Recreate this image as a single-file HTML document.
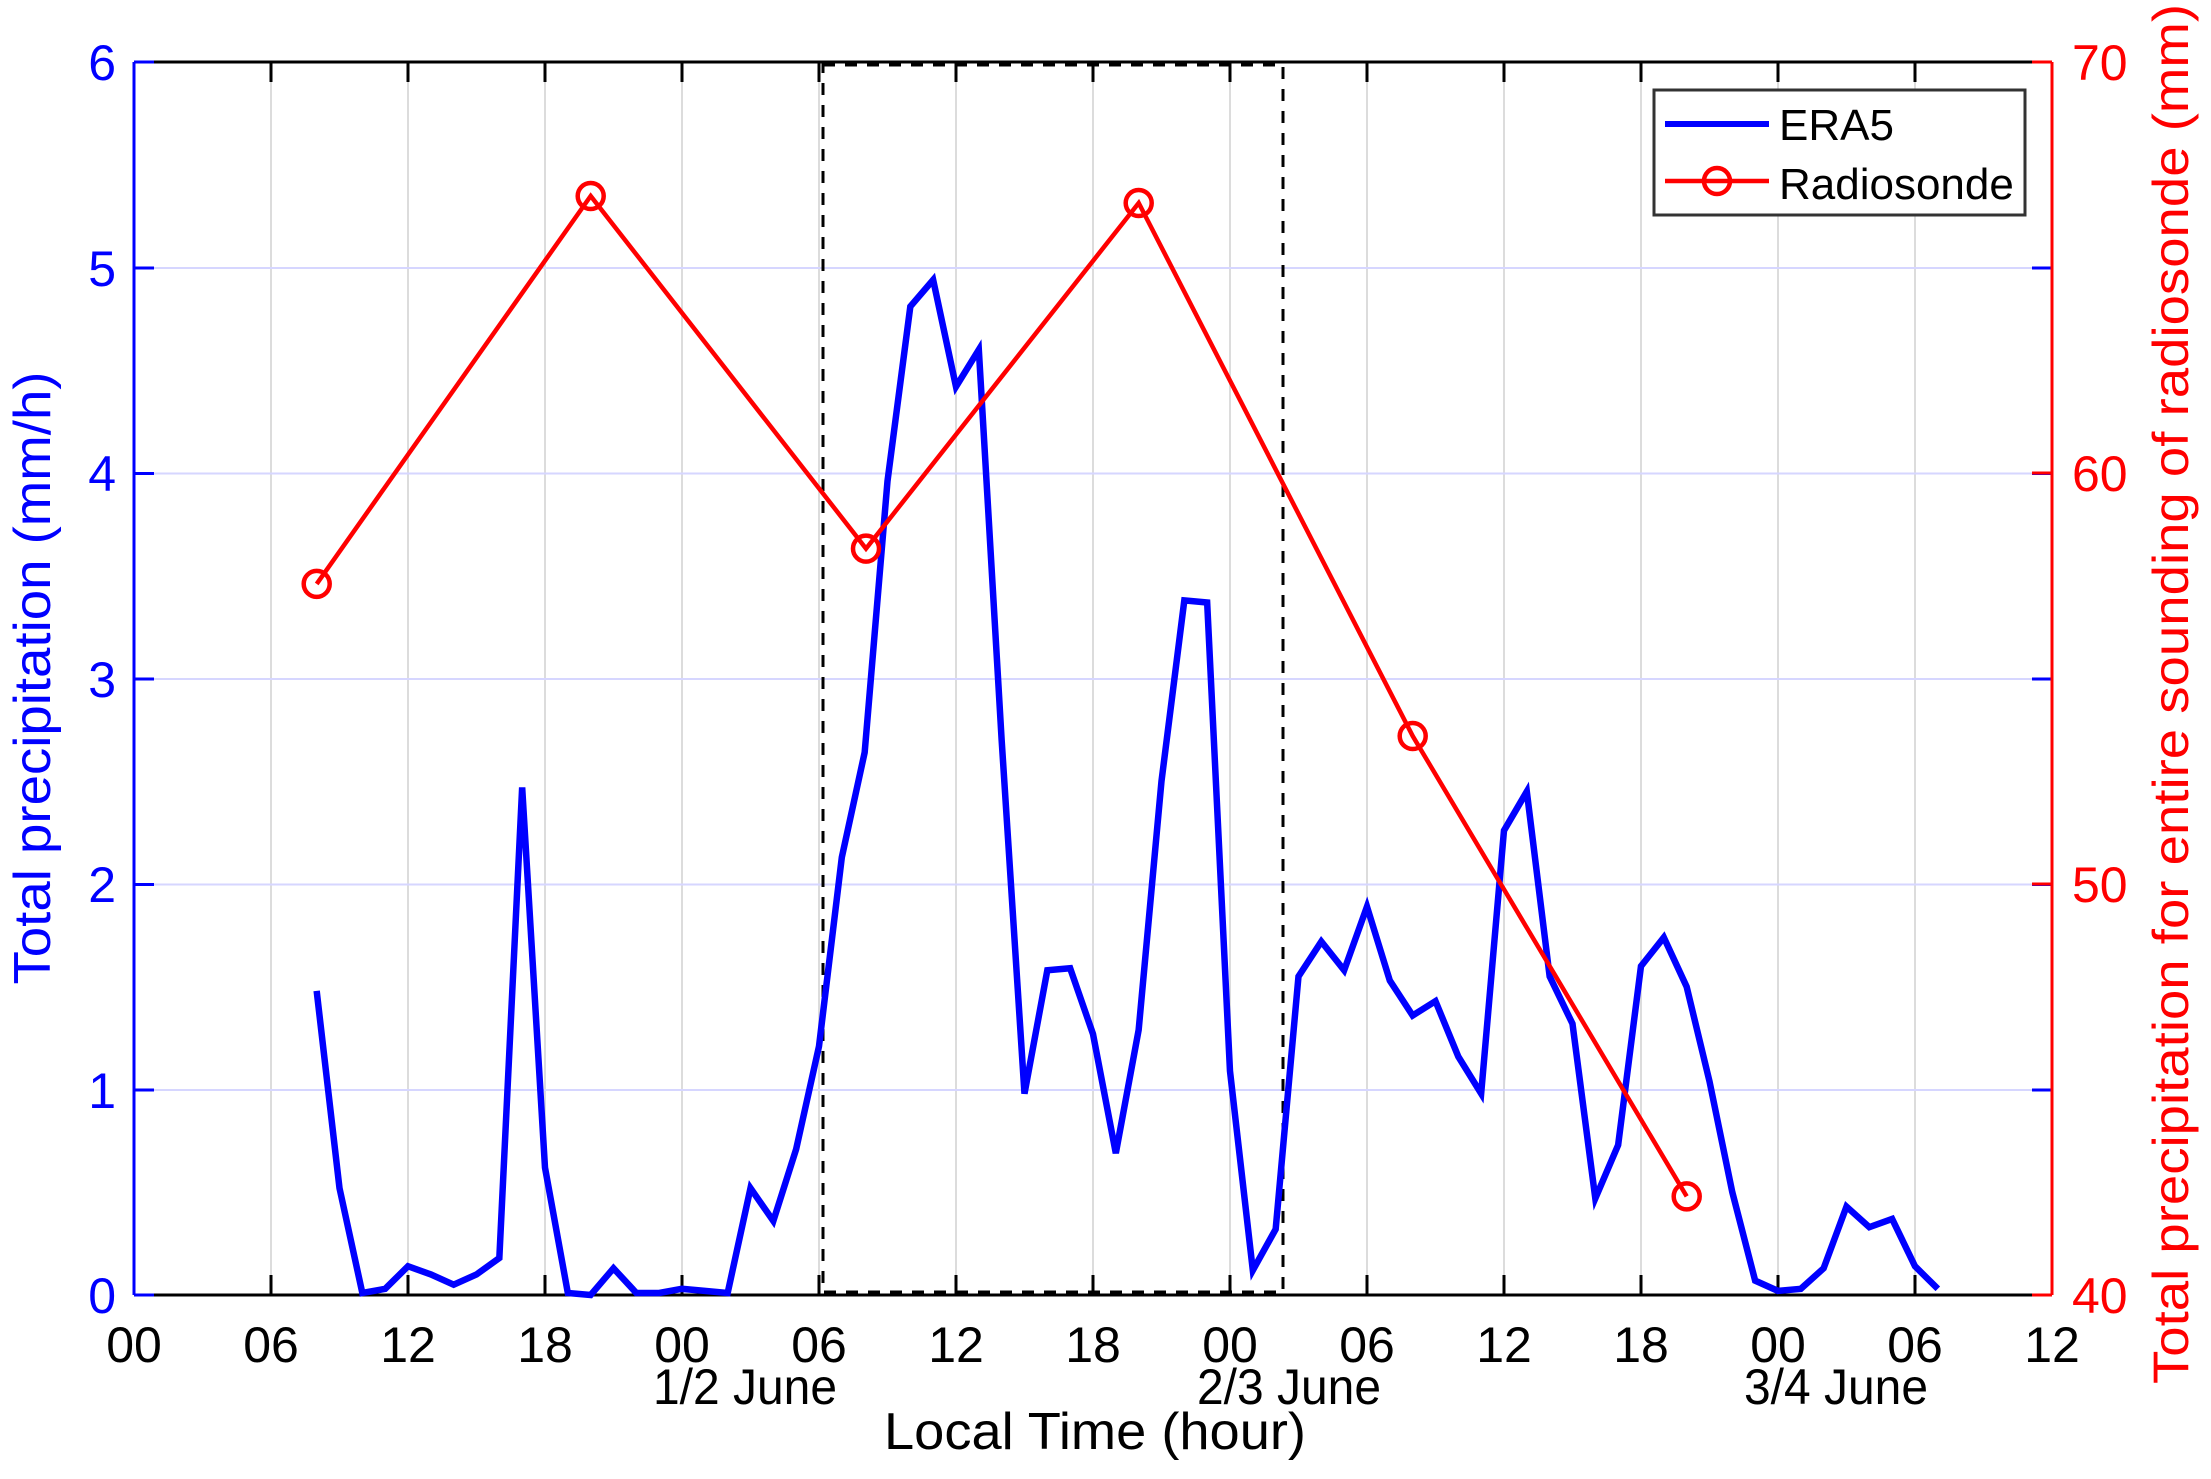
<!DOCTYPE html>
<html><head><meta charset="utf-8"><style>body{margin:0;background:#fff}svg{display:block}</style></head>
<body>
<svg width="2211" height="1479" viewBox="0 0 2211 1479" xmlns="http://www.w3.org/2000/svg" font-family="Liberation Sans, Arial, sans-serif">
<rect width="2211" height="1479" fill="#fff"/>
<g stroke="#dcdcdc" stroke-width="2">
<line x1="271" y1="62" x2="271" y2="1295"/><line x1="408" y1="62" x2="408" y2="1295"/><line x1="545" y1="62" x2="545" y2="1295"/><line x1="682" y1="62" x2="682" y2="1295"/><line x1="819" y1="62" x2="819" y2="1295"/><line x1="956" y1="62" x2="956" y2="1295"/><line x1="1093" y1="62" x2="1093" y2="1295"/><line x1="1230" y1="62" x2="1230" y2="1295"/><line x1="1367" y1="62" x2="1367" y2="1295"/><line x1="1504" y1="62" x2="1504" y2="1295"/><line x1="1641" y1="62" x2="1641" y2="1295"/><line x1="1778" y1="62" x2="1778" y2="1295"/><line x1="1915" y1="62" x2="1915" y2="1295"/>
</g>
<g stroke="#d6d6ff" stroke-width="2">
<line x1="134" y1="268" x2="2052" y2="268"/><line x1="134" y1="473.5" x2="2052" y2="473.5"/><line x1="134" y1="679" x2="2052" y2="679"/><line x1="134" y1="884.5" x2="2052" y2="884.5"/><line x1="134" y1="1090" x2="2052" y2="1090"/>
</g>
<line x1="134" y1="62" x2="2052" y2="62" stroke="#000" stroke-width="3"/>
<line x1="134" y1="1295" x2="2052" y2="1295" stroke="#000" stroke-width="3"/>
<g stroke="#000" stroke-width="3">
<path d="M271 62v20M408 62v20M545 62v20M682 62v20M819 62v20M956 62v20M1093 62v20M1230 62v20M1367 62v20M1504 62v20M1641 62v20M1778 62v20M1915 62v20"/>
<path d="M271 1295v-20M408 1295v-20M545 1295v-20M682 1295v-20M819 1295v-20M956 1295v-20M1093 1295v-20M1230 1295v-20M1367 1295v-20M1504 1295v-20M1641 1295v-20M1778 1295v-20M1915 1295v-20"/>
</g>
<line x1="134" y1="62" x2="134" y2="1295" stroke="#00f" stroke-width="3"/>
<g stroke="#00f" stroke-width="3"><path d="M134 62h20M134 268h20M134 473.5h20M134 679h20M134 884.5h20M134 1090h20M134 1295h20"/></g>
<g stroke="#00f" stroke-width="3"><path d="M2052 268h-20M2052 473.5h-20M2052 679h-20M2052 884.5h-20M2052 1090h-20"/></g>
<line x1="2052" y1="62" x2="2052" y2="1295" stroke="#f00" stroke-width="3"/>
<g stroke="#f00" stroke-width="3"><path d="M2052 62h-20M2052 473h-20M2052 884h-20M2052 1295h-20"/></g>
<rect x="823" y="65" width="460" height="1227" fill="none" stroke="#000" stroke-width="3" stroke-dasharray="12,10"/>
<polyline transform="translate(134,1295) scale(22.833,-205.5)" vector-effect="non-scaling-stroke" fill="none" stroke="#0000ff" stroke-width="6.5" stroke-linejoin="miter"
points="8,1.48 9,0.52 10,0.01 11,0.03 12,0.14 13,0.1 14,0.05 15,0.1 16,0.18 17,2.47 18,0.62 19,0.01 20,0.0 21,0.13 22,0.01 23,0.01 24,0.03 25,0.02 26,0.01 27,0.52 28,0.36 29,0.71 30,1.21 31,2.13 32,2.64 33,3.96 34,4.81 35,4.94 36,4.42 37,4.6 38,2.7 39,0.98 40,1.58 41,1.59 42,1.27 43,0.69 44,1.29 45,2.5 46,3.38 47,3.37 48,1.09 49,0.12 50,0.32 51,1.55 52,1.72 53,1.58 54,1.89 55,1.53 56,1.36 57,1.43 58,1.16 59,0.98 60,2.26 61,2.45 62,1.55 63,1.32 64,0.47 65,0.73 66,1.6 67,1.74 68,1.5 69,1.04 70,0.5 71,0.07 72,0.02 73,0.03 74,0.13 75,0.43 76,0.33 77,0.37 78,0.14 79,0.03"/>
<polyline fill="none" stroke="#ff0000" stroke-width="4.5" points="316.7,583.9 590.7,196 866,548.6 1138.7,203 1412.7,736 1686.7,1196.4"/>
<g fill="none" stroke="#ff0000" stroke-width="4.5">
<circle cx="316.7" cy="583.9" r="13"/><circle cx="590.7" cy="196" r="13"/><circle cx="866" cy="548.6" r="13"/><circle cx="1138.7" cy="203" r="13"/><circle cx="1412.7" cy="736" r="13"/><circle cx="1686.7" cy="1196.4" r="13"/>
</g>
<rect x="1654" y="90" width="371" height="125" fill="#fff" stroke="#333" stroke-width="3"/>
<line x1="1665" y1="124" x2="1769" y2="124" stroke="#00f" stroke-width="6"/>
<line x1="1665" y1="181" x2="1769" y2="181" stroke="#f00" stroke-width="4.5"/>
<circle cx="1717" cy="181" r="13" fill="none" stroke="#f00" stroke-width="4.5"/>
<text x="1779" y="140" font-size="44">ERA5</text>
<text x="1779" y="199" font-size="44">Radiosonde</text>
<g fill="#00f" font-size="50" text-anchor="end">
<text x="116" y="80">6</text><text x="116" y="286">5</text><text x="116" y="491">4</text><text x="116" y="697">3</text><text x="116" y="902">2</text><text x="116" y="1108">1</text><text x="116" y="1313">0</text>
</g>
<g fill="#f00" font-size="50">
<text x="2072" y="80">70</text><text x="2072" y="491">60</text><text x="2072" y="902">50</text><text x="2072" y="1313">40</text>
</g>
<text transform="translate(50,678) rotate(-90)" text-anchor="middle" fill="#00f" font-size="52" textLength="613" lengthAdjust="spacingAndGlyphs">Total precipitation (mm/h)</text>
<text transform="translate(2188,694) rotate(-90)" text-anchor="middle" fill="#f00" font-size="50" textLength="1380" lengthAdjust="spacingAndGlyphs">Total precipitation for entire sounding of radiosonde (mm)</text>
<g font-size="50" text-anchor="middle" fill="#000">
<text x="134" y="1362">00</text><text x="271" y="1362">06</text><text x="408" y="1362">12</text><text x="545" y="1362">18</text><text x="682" y="1362">00</text><text x="819" y="1362">06</text><text x="956" y="1362">12</text><text x="1093" y="1362">18</text><text x="1230" y="1362">00</text><text x="1367" y="1362">06</text><text x="1504" y="1362">12</text><text x="1641" y="1362">18</text><text x="1778" y="1362">00</text><text x="1915" y="1362">06</text><text x="2052" y="1362">12</text>
</g>
<g font-size="50" text-anchor="middle" fill="#000">
<text x="745" y="1404" textLength="184" lengthAdjust="spacingAndGlyphs">1/2 June</text>
<text x="1289" y="1404" textLength="184" lengthAdjust="spacingAndGlyphs">2/3 June</text>
<text x="1836" y="1404" textLength="184" lengthAdjust="spacingAndGlyphs">3/4 June</text>
</g>
<text x="1095" y="1449" font-size="52" text-anchor="middle" textLength="422" lengthAdjust="spacingAndGlyphs">Local Time (hour)</text>
</svg>
</body></html>
